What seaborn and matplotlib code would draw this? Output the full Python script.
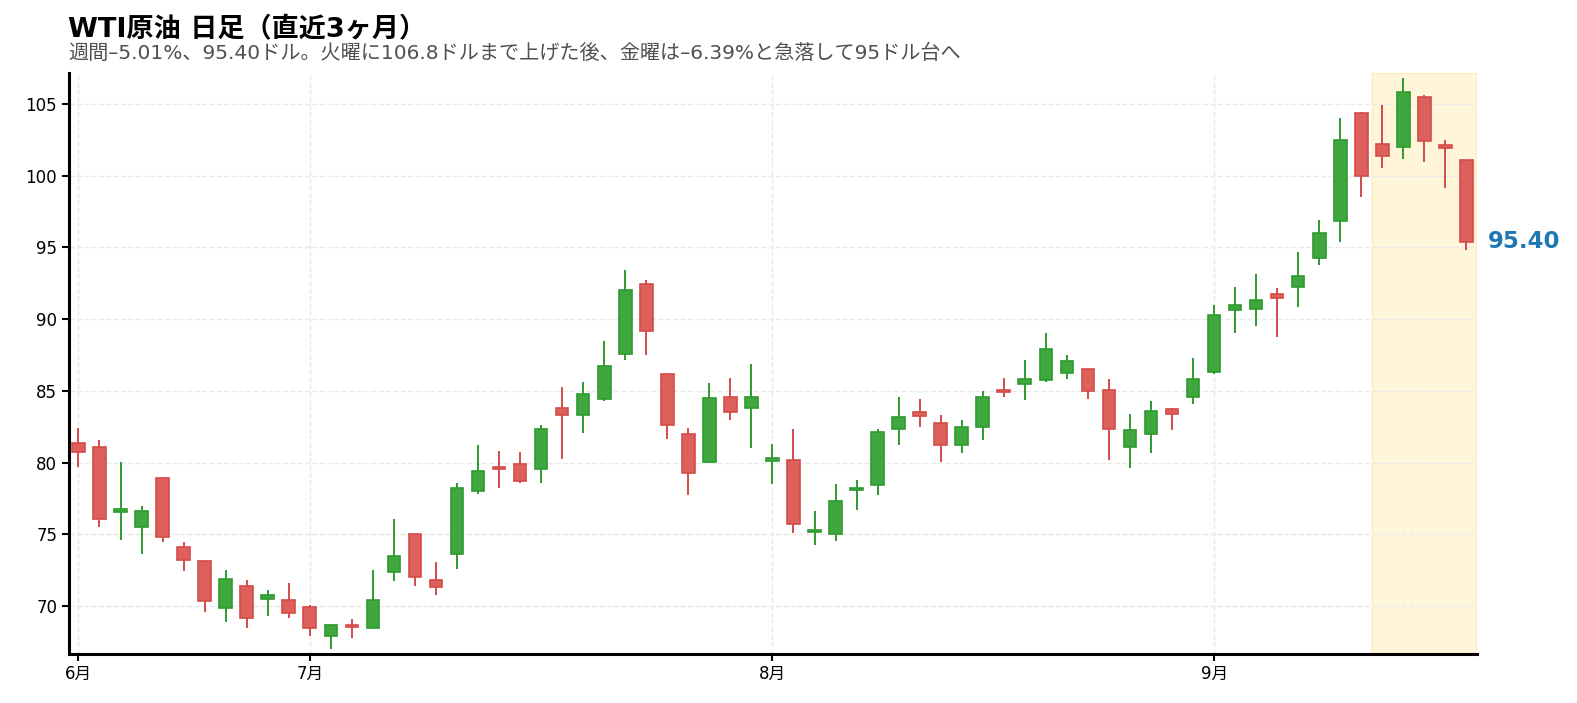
import numpy as np
import matplotlib
matplotlib.use("Agg")
import matplotlib.pyplot as plt
import seaborn as sns

# -- Data (daily OHLC) ------------------------------------------------------
opens = [81.4, 81.1, 76.55, 75.5, 78.95, 74.15, 73.15, 69.9, 71.4, 70.5,
         70.4, 69.95, 67.95, 68.7, 68.5, 72.35, 75.0, 71.8, 73.65, 78.0,
         79.7, 79.9, 79.55, 83.8, 83.3, 84.45, 87.55, 92.45, 86.15, 82.0,
         80.05, 84.6, 83.8, 80.1, 80.15, 75.15, 75.05, 78.1, 78.45, 82.35,
         83.5, 82.75, 81.2, 82.5, 85.05, 85.45, 85.75, 86.25, 86.5, 85.05,
         81.1, 82.0, 83.75, 84.6, 86.3, 90.65, 90.7, 91.75, 92.2, 94.25,
         96.8, 104.35, 102.2, 102.0, 105.5, 102.15, 101.05]
highs = [82.4, 81.6, 80.05, 76.95, 79.0, 74.45, 73.2, 72.5, 71.8, 71.1,
         71.6, 70.1, 68.75, 69.1, 72.5, 76.05, 75.05, 73.1, 78.55, 81.2,
         80.8, 80.75, 82.6, 85.25, 85.6, 88.45, 93.4, 92.7, 86.2, 82.4,
         85.55, 85.9, 86.9, 81.3, 82.35, 76.65, 78.5, 78.8, 82.35, 84.6,
         84.4, 83.3, 83.0, 85.0, 85.9, 87.15, 89.0, 87.5, 86.55, 85.85,
         83.4, 84.3, 83.8, 87.3, 91.0, 92.25, 93.15, 92.15, 94.65, 96.9,
         104.0, 104.4, 104.9, 106.8, 105.6, 102.45, 101.1]
lows = [79.7, 75.5, 74.6, 73.6, 74.5, 72.45, 69.6, 68.9, 68.5, 69.3,
        69.2, 67.9, 67.0, 67.75, 68.5, 71.75, 71.4, 70.8, 72.6, 77.8,
        78.2, 78.6, 78.6, 80.25, 82.05, 84.3, 87.15, 87.5, 81.65, 77.75,
        79.95, 82.95, 81.05, 78.5, 75.1, 74.25, 74.55, 76.7, 77.75, 81.25,
        82.45, 80.05, 80.7, 81.55, 84.6, 84.35, 85.65, 85.8, 84.4, 80.2,
        79.65, 80.7, 82.25, 84.05, 86.15, 89.0, 89.55, 88.75, 90.85, 93.8,
        95.4, 98.5, 100.55, 101.15, 100.95, 99.1, 94.8]
closes = [80.75, 76.1, 76.8, 76.6, 74.8, 73.2, 70.35, 71.9, 69.2, 70.75,
          69.5, 68.5, 68.7, 68.55, 70.4, 73.5, 72.05, 71.35, 78.2, 79.4,
          79.55, 78.75, 82.35, 83.3, 84.8, 86.7, 92.05, 89.15, 82.6, 79.3,
          84.5, 83.55, 84.6, 80.35, 75.75, 75.3, 77.3, 78.25, 82.15, 83.2,
          83.25, 81.25, 82.45, 84.55, 84.95, 85.85, 87.9, 87.05, 85.0, 82.35,
          82.25, 83.6, 83.4, 85.8, 90.25, 91.0, 91.3, 91.45, 93.0, 96.0,
          102.5, 100.0, 101.35, 105.85, 102.4, 101.9, 95.4]

# first trading day of each month (candle index) and its label
month_starts = [0, 11, 33, 54]
month_labels = ["6月", "7月", "8月", "9月"]

# last week (Mon-Fri) gets highlighted
week_start, week_end = 62, 66

title = "WTI原油 日足（直近3ヶ月）"
subtitle = ("週間–5.01%、95.40ドル。火曜に106.8ドルまで上げた後、"
            "金曜は–6.39%と急落して95ドル台へ")

# -- Style -------------------------------------------------------------------
sns.set_theme(style="white")
# wide latin glyphs first, CJK falls through to Noto
plt.rcParams["font.family"] = ["DejaVu Sans", "Noto Sans CJK JP"]

UP_FACE, UP_EDGE = "#3ea83e", "#2f9a2f"
DOWN_FACE, DOWN_EDGE = "#de605c", "#d44c48"

o = np.array(opens)
h = np.array(highs)
l = np.array(lows)
c = np.array(closes)
x = np.arange(len(o))
up = c >= o

fig = plt.figure(figsize=(15.77, 7.03), dpi=100)
ax = fig.add_axes([0.04375, 0.0704, 0.8928, 0.8253])

# highlight band for the latest week
ax.axvspan(week_start - 0.5, week_end + 0.5, color="#ffc107", alpha=0.15,
           lw=1.5, zorder=0)

# wicks
ax.vlines(x, l, h, colors=np.where(up, UP_EDGE, DOWN_EDGE), lw=1.4, zorder=2)

# bodies (keep dojis visible)
body = np.maximum(np.abs(c - o), 0.12)
bottom = np.minimum(o, c)
ax.bar(x, body, bottom=bottom, width=0.6,
       color=np.where(up, UP_FACE, DOWN_FACE),
       edgecolor=np.where(up, UP_EDGE, DOWN_EDGE), linewidth=1.2, zorder=3)

# last close label
ax.text(1.008, closes[-1], f"{closes[-1]:.2f}", transform=ax.get_yaxis_transform(),
        ha="left", va="center", fontsize=16.5, fontweight="bold", color="#1f77b4")

ax.set_xlim(-0.45, len(o) - 0.5)
ax.set_ylim(min(lows) - 0.3, max(highs) + 0.32)
ax.set_yticks(np.arange(70, 106, 5))
ax.set_xticks(month_starts)
ax.set_xticklabels(month_labels)

ax.grid(True, ls="--", color="#e9e9e9", lw=1.0)
ax.set_axisbelow(True)
sns.despine(ax=ax)
for side in ("left", "bottom"):
    ax.spines[side].set_linewidth(2.2)
    ax.spines[side].set_color("black")
ax.tick_params(axis="both", direction="out", length=5, width=1.5,
               labelsize=12, colors="black", bottom=True, left=True)

fig.text(0.0431, 0.9488, title, fontsize=19.5, fontweight="bold",
         ha="left", va="baseline", color="black")
fig.text(0.0431, 0.9156, subtitle, fontsize=14.5, ha="left", va="baseline",
         color="#505050")

fig.savefig("out.png", dpi=100)
plt.close(fig)
